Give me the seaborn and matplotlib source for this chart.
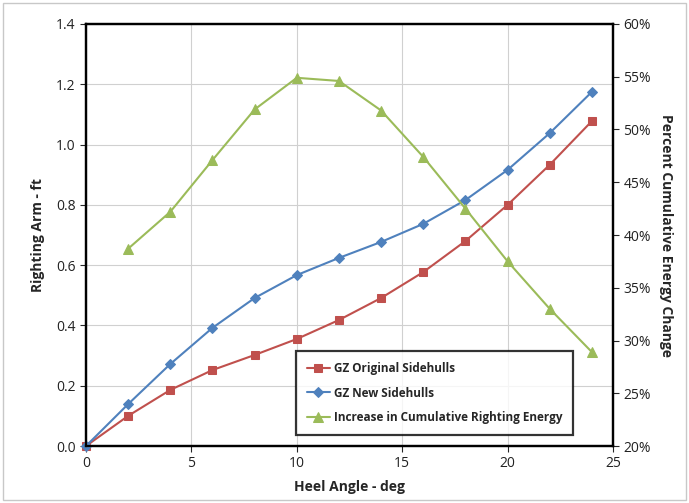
import pandas as pd
import matplotlib.pyplot as plt
import seaborn as sns

heel = [0, 2, 4, 6, 8, 10, 12, 14, 16, 18, 20, 22, 24]
gz_original = [0.0, 0.10, 0.186, 0.252, 0.302, 0.355, 0.418, 0.491, 0.577, 0.68, 0.80, 0.933, 1.078]
gz_new = [0.0, 0.139, 0.272, 0.392, 0.491, 0.567, 0.624, 0.677, 0.737, 0.816, 0.916, 1.038, 1.175]
energy_heel = [2, 4, 6, 8, 10, 12, 14, 16, 18, 20, 22, 24]
energy_pct = [38.7, 42.2, 47.1, 51.9, 54.9, 54.6, 51.8, 47.4, 42.5, 37.5, 33.0, 28.9]

sns.set_style("white")
plt.rcParams['font.family'] = ['Open Sans', 'DejaVu Sans']

red = '#C0504D'
blue = '#4F81BD'
green = '#9BBB59'

fig = plt.figure(figsize=(6.89, 5.03), dpi=100)
ax = fig.add_axes([0.1248, 0.1133, 0.7649, 0.839])
ax2 = ax.twinx()

df = pd.DataFrame({'heel': heel, 'orig': gz_original, 'new': gz_new})
edf = pd.DataFrame({'heel': energy_heel, 'pct': energy_pct})

sns.lineplot(data=df, x='heel', y='orig', ax=ax, color=red, marker='s',
             markersize=6, markeredgecolor=red, linewidth=1.5,
             label='GZ Original Sidehulls', legend=False)
sns.lineplot(data=df, x='heel', y='new', ax=ax, color=blue, marker='D',
             markersize=5, markeredgecolor=blue, linewidth=1.5,
             label='GZ New Sidehulls', legend=False)
sns.lineplot(data=edf, x='heel', y='pct', ax=ax2, color=green, marker='^',
             markersize=7, markeredgecolor=green, linewidth=1.5,
             label='Increase in Cumulative Righting Energy', legend=False)
for line in ax.get_lines() + ax2.get_lines():
    line.set_clip_on(False)
    line.set_zorder(5)

ax.set_xlim(0, 25)
ax.set_ylim(0, 1.4)
ax2.set_ylim(20, 60)
ax.set_xticks([0, 5, 10, 15, 20, 25])
ax.set_yticks([0, 0.2, 0.4, 0.6, 0.8, 1.0, 1.2, 1.4])
ax.set_yticklabels([f'{v:.1f}' for v in ax.get_yticks()])
ax2.set_yticks(range(20, 61, 5))
ax2.set_yticklabels([f'{v}%' for v in range(20, 61, 5)])

ax.grid(True, color='#d0d0d0', linewidth=0.8)
ax.set_axisbelow(True)
for a in (ax, ax2):
    for s in a.spines.values():
        s.set_color('black')
        s.set_linewidth(1.6)
ax.tick_params(axis='both', labelsize=10, length=4,
               direction='out', width=0.8, left=True, bottom=True)
ax2.tick_params(axis='y', labelsize=10, length=4,
                direction='out', width=0.8, right=True)
for lab in ax.get_xticklabels() + ax.get_yticklabels() + ax2.get_yticklabels():
    lab.set_color('#222222')

ax.set_xlabel('Heel Angle - deg', fontsize=10, fontweight='bold', labelpad=6)
ax.set_ylabel('Righting Arm - ft', fontsize=10, fontweight='bold', labelpad=8)
ax2.set_ylabel('Percent Cumulative Energy Change', fontsize=10, fontweight='bold',
               rotation=270, labelpad=16)

h1, lb1 = ax.get_legend_handles_labels()
h2, lb2 = ax2.get_legend_handles_labels()
leg = ax2.legend(h1 + h2, lb1 + lb2, loc='lower right',
                 bbox_to_anchor=(0.924, 0.026), borderaxespad=0, fontsize=8.5,
                 frameon=True, fancybox=False, edgecolor='black', borderpad=0.9,
                 labelspacing=1.0, handlelength=2.0, handletextpad=0.3)
leg.get_frame().set_linewidth(1.6)
leg.set_zorder(10)
for t in leg.get_texts():
    t.set_fontweight('bold')

fig.patches.append(plt.Rectangle((0.005, 0.005), 0.99, 0.99, transform=fig.transFigure,
                                 fill=False, edgecolor='#c8c8c8', linewidth=1))

fig.savefig('out.png', dpi=100)
